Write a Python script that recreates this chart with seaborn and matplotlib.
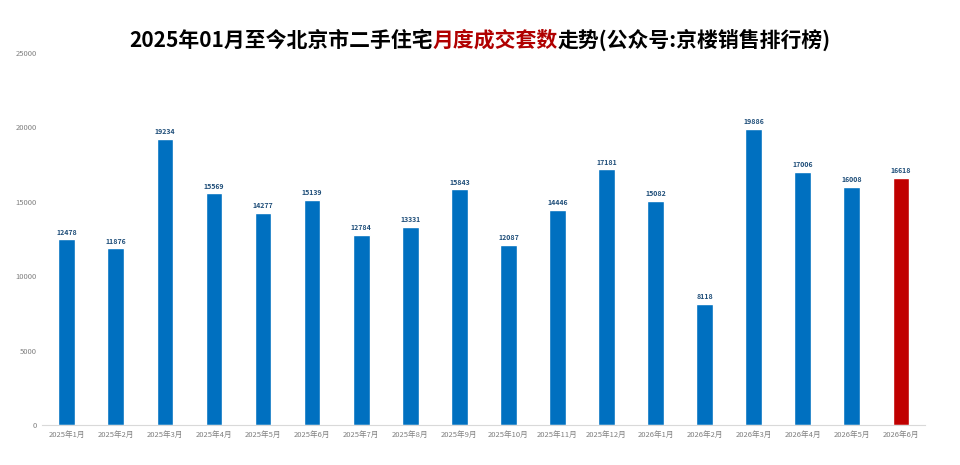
import matplotlib
matplotlib.use("Agg")
import matplotlib.pyplot as plt
from matplotlib.offsetbox import TextArea, HPacker, AnchoredOffsetbox
import pandas as pd
import seaborn as sns

months = ["2025年1月", "2025年2月", "2025年3月", "2025年4月", "2025年5月", "2025年6月",
          "2025年7月", "2025年8月", "2025年9月", "2025年10月", "2025年11月", "2025年12月",
          "2026年1月", "2026年2月", "2026年3月", "2026年4月", "2026年5月", "2026年6月"]
sales = [12478, 11876, 19234, 15569, 14277, 15139, 12784, 13331, 15843,
         12087, 14446, 17181, 15082, 8118, 19886, 17006, 16008, 16618]
highlight = [False] * 17 + [True]

df = pd.DataFrame({"month": months, "sales": sales,
                   "group": ["current" if h else "past" for h in highlight]})

sns.set_theme(style="white")
plt.rcParams["font.family"] = ["Noto Sans CJK SC", "DejaVu Sans"]

fig = plt.figure(figsize=(9.6, 4.65), dpi=100)
ax = fig.add_axes([0.044, 0.086, 0.92, 0.80])

sns.barplot(data=df, x="month", y="sales", hue="group",
            palette={"past": "#0070C0", "current": "#C00000"},
            width=0.34, dodge=False, legend=False, ax=ax, saturation=1)

# value labels above each bar
for i, v in enumerate(sales):
    ax.text(i, v + 250, str(v), ha="center", va="bottom",
            fontsize=5, color="#1F4E79", fontweight="bold")

ax.set_xlim(-0.5, len(months) - 0.5)
ax.set_ylim(0, 25000)
ax.set_yticks(range(0, 25001, 5000))
ax.set_xlabel("")
ax.set_ylabel("")
ax.tick_params(axis="both", labelsize=5.5, colors="#808080", length=0, pad=4)
for s in ["top", "right", "left"]:
    ax.spines[s].set_visible(False)
ax.spines["bottom"].set_color("#D9D9D9")
ax.spines["bottom"].set_linewidth(0.8)

# title with highlighted middle part
tprops = dict(fontsize=15, fontweight="bold", family=["Noto Sans CJK SC", "DejaVu Sans"])
parts = [TextArea("2025年01月至今北京市二手住宅", textprops=dict(color="black", **tprops)),
         TextArea("月度成交套数", textprops=dict(color="#B00000", **tprops)),
         TextArea("走势(公众号:京楼销售排行榜)", textprops=dict(color="black", **tprops))]
box = HPacker(children=parts, align="baseline", pad=0, sep=0)
anchored = AnchoredOffsetbox(loc="center", child=box, frameon=False,
                             bbox_to_anchor=(0.5, 0.915), bbox_transform=fig.transFigure,
                             borderpad=0)
fig.add_artist(anchored)

fig.savefig("out.png", dpi=100)
